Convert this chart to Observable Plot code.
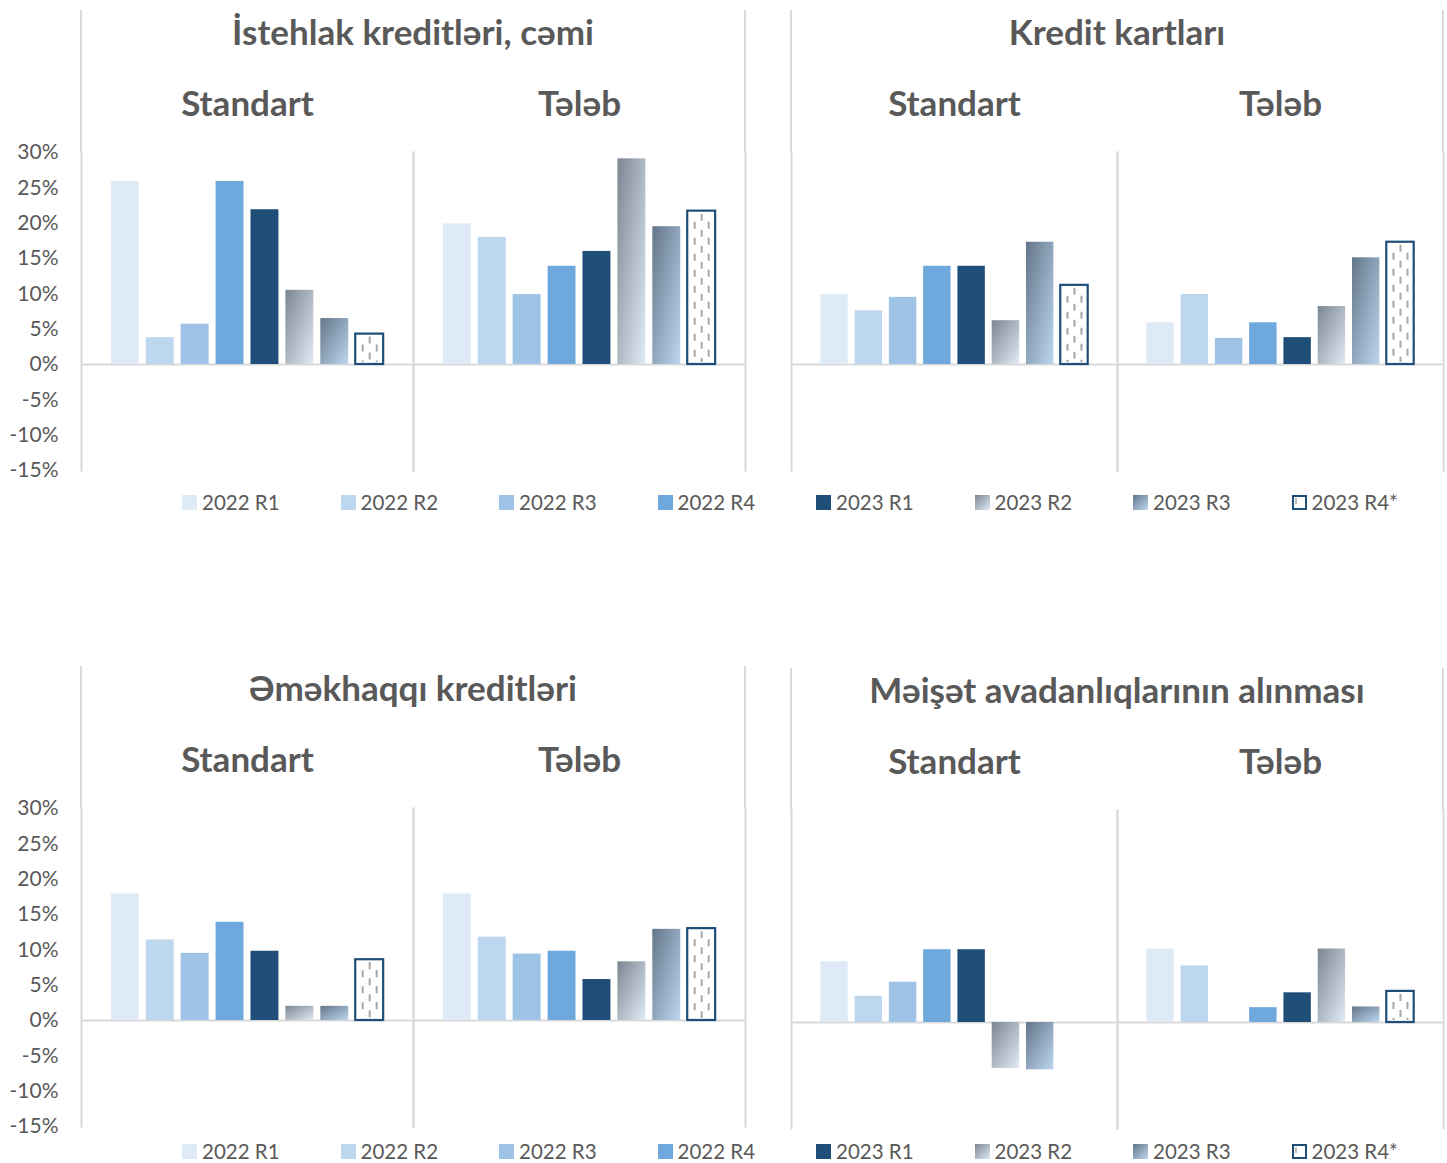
<!DOCTYPE html>
<html>
<head>
<meta charset="utf-8">
<script src="https://cdn.jsdelivr.net/npm/d3@7"></script>
<script src="https://cdn.jsdelivr.net/npm/@observablehq/plot@0.6"></script>
<style>
  body { margin: 0; background: #fff; font-family: Lato, "Noto Sans", sans-serif; }
  #root { position: relative; width: 1447px; height: 1163px; overflow: hidden; }
  .title { position: absolute; transform: translate(-50%, -50%); white-space: nowrap;
           font-weight: 700; font-size: 35px; color: #595959; line-height: 1; }
  .vline { position: absolute; width: 2px; background: #d9d9d9; }
  .legend { position: absolute; display: flex; align-items: center; height: 24px; }
  .legend .item { width: 158.5px; display: flex; align-items: center; font-size: 20.5px; color: #595959; }
  .legend svg { margin-right: 5px; flex: none; }
  .plotbox { position: absolute; }
</style>
</head>
<body>
<svg width="0" height="0" style="position:absolute">
  <defs>
    <linearGradient id="gradR2" x1="0" y1="0" x2="1" y2="1">
      <stop offset="0" stop-color="#7b8692"/>
      <stop offset="1" stop-color="#e0ebf6"/>
    </linearGradient>
    <linearGradient id="gradR3" x1="0" y1="0" x2="1" y2="1">
      <stop offset="0" stop-color="#637589"/>
      <stop offset="1" stop-color="#bdd7ef"/>
    </linearGradient>
  </defs>
</svg>
<div id="root"></div>
<script>
// ---------- data ----------
const series = ["2022 R1", "2022 R2", "2022 R3", "2022 R4", "2023 R1", "2023 R2", "2023 R3", "2023 R4*"];
const groups = ["Standart", "Tələb"];
const chartTitles = ["İstehlak kreditləri, cəmi", "Kredit kartları", "Əməkhaqqı kreditləri", "Məişət avadanlıqlarının alınması"];
const yTicks = [-15, -10, -5, 0, 5, 10, 15, 20, 25, 30];

const istehlakStandart = [25.9, 3.8, 5.7, 25.9, 21.9, 10.5, 6.5, 4.3];
const istehlakTeleb    = [19.9, 18.0, 9.9, 13.9, 16.0, 29.1, 19.5, 21.7];
const kartStandart     = [9.9, 7.6, 9.5, 13.9, 13.9, 6.2, 17.3, 11.2];
const kartTeleb        = [5.9, 9.9, 3.7, 5.9, 3.8, 8.2, 15.1, 17.3];
const emekStandart     = [17.9, 11.4, 9.5, 13.9, 9.8, 2.0, 2.0, 8.6];
const emekTeleb        = [17.9, 11.8, 9.4, 9.8, 5.8, 8.3, 12.9, 13.0];
const meisetStandart   = [8.6, 3.7, 5.7, 10.3, 10.3, -6.5, -6.7, null];
const meisetTeleb      = [10.4, 8.0, null, 2.1, 4.2, 10.4, 2.2, 4.4];

// ---------- styles ----------
const palette = ["#deebf7", "#bdd7ee", "#9dc3e6", "#6fa8dc", "#1f4e79", "url(#gradR2)", "url(#gradR3)", "#ffffff"];
const grid = "#d9d9d9";
const textColor = "#595959";

const panels = [
  {title: chartTitles[0], std: istehlakStandart, tel: istehlakTeleb, axis: true,  left: 81,  top: 0,   inner: 664},
  {title: chartTitles[1], std: kartStandart,     tel: kartTeleb,     axis: false, left: 791, top: 0,   inner: 652},
  {title: chartTitles[2], std: emekStandart,     tel: emekTeleb,     axis: true,  left: 81,  top: 656, inner: 664},
  {title: chartTitles[3], std: meisetStandart,   tel: meisetTeleb,   axis: false, left: 791, top: 658, inner: 652}
];

const root = document.getElementById("root");

function drawPanel(p) {
  const rows = [];
  groups.forEach((g, gi) => (gi ? p.tel : p.std).forEach((v, i) => {
    if (v != null) rows.push({group: g, series: series[i], value: v});
  }));
  const mL = p.axis ? 81 : 4, mR = 4, mT = 152, mB = 4;
  const marks = [
    Plot.ruleY([0], {stroke: grid, strokeWidth: 2}),
    Plot.frame({anchor: "left", stroke: grid, strokeWidth: 2}),
    Plot.frame({anchor: "right", stroke: grid, strokeWidth: 2})
  ];
  series.forEach((s, i) => {
    const d = rows.filter(r => r.series === s);
    const last = i === series.length - 1;
    marks.push(Plot.barY(d, {
      fx: "group", x: "series", y: "value", fill: palette[i],
      stroke: last ? "#1f4e79" : "none", strokeWidth: last ? 2.2 : 0
    }));
    if (last) {
      [-7, 0, 7].forEach((dx, k) => marks.push(Plot.ruleX(d, {
        fx: "group", x: "series", y1: "value", y2: 0, dx,
        stroke: "#a6a6a6", strokeWidth: 2, strokeDasharray: "7 9",
        strokeDashoffset: k === 1 ? 0 : 8, insetTop: 3, insetBottom: 2
      })));
    }
  });
  if (p.axis) {
    marks.push(Plot.axisY({ticks: yTicks, tickSize: 0, tickPadding: 23, fontSize: 21,
      tickFormat: d => d + "%", label: null, fill: textColor}));
  }
  marks.push(Plot.axisFx({anchor: "top", tickSize: 0, tickPadding: 37, fontSize: 35,
    fontWeight: "bold", label: null, fill: textColor}));

  const chart = Plot.plot({
    width: mL + p.inner + mR,
    height: mT + 318 + mB,
    marginLeft: mL, marginRight: mR, marginTop: mT, marginBottom: mB,
    style: {fontFamily: "Lato, 'Noto Sans', sans-serif", color: textColor, background: "transparent", overflow: "visible"},
    fx: {domain: groups, padding: 0, round: false},
    x: {domain: series, paddingInner: 0.2, paddingOuter: 0.855, round: false, axis: null},
    y: p.axis ? {domain: [-15, 30]} : {domain: [-15, 30], axis: null},
    marks
  });
  const box = document.createElement("div");
  box.className = "plotbox";
  box.style.left = (p.left - mL) + "px";
  box.style.top = p.top + "px";
  box.appendChild(chart);
  root.appendChild(box);

  // outer border lines extending up beside the title
  [p.left, p.left + p.inner].forEach(x => {
    const l = document.createElement("div");
    l.className = "vline";
    l.style.left = (x - 1) + "px";
    l.style.top = (p.top + 10) + "px";
    l.style.height = (mT - 10) + "px";
    root.appendChild(l);
  });

  const t = document.createElement("div");
  t.className = "title";
  t.textContent = p.title;
  t.style.left = (p.left + p.inner / 2) + "px";
  t.style.top = (p.top + 31) + "px";
  root.appendChild(t);
}

panels.forEach(drawPanel);

function swatch(i) {
  const ns = "http://www.w3.org/2000/svg";
  const svg = document.createElementNS(ns, "svg");
  svg.setAttribute("width", 15); svg.setAttribute("height", 15);
  const r = document.createElementNS(ns, "rect");
  const last = i === series.length - 1;
  r.setAttribute("x", last ? 1 : 0); r.setAttribute("y", last ? 1 : 0);
  r.setAttribute("width", last ? 13 : 15); r.setAttribute("height", last ? 13 : 15);
  r.setAttribute("fill", palette[i]);
  if (last) { r.setAttribute("stroke", "#1f4e79"); r.setAttribute("stroke-width", 2); }
  svg.appendChild(r);
  if (last) {
    const l = document.createElementNS(ns, "line");
    l.setAttribute("x1", 4); l.setAttribute("x2", 4); l.setAttribute("y1", 3); l.setAttribute("y2", 9);
    l.setAttribute("stroke", "#a6a6a6"); l.setAttribute("stroke-width", 1.5);
    svg.appendChild(l);
  }
  return svg;
}

[490, 1139].forEach(top => {
  const lg = document.createElement("div");
  lg.className = "legend";
  lg.style.left = "182px";
  lg.style.top = top + "px";
  series.forEach((s, i) => {
    const it = document.createElement("div");
    it.className = "item";
    it.appendChild(swatch(i));
    const sp = document.createElement("span");
    sp.textContent = s;
    it.appendChild(sp);
    lg.appendChild(it);
  });
  root.appendChild(lg);
});
</script>
</body>
</html>
